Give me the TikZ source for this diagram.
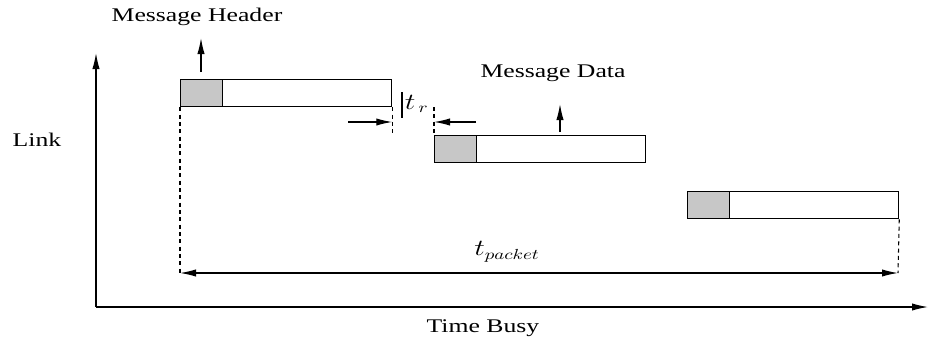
\documentclass[tikz,border=0pt]{standalone}
\usepackage{fontspec}
\setmainfont{Liberation Serif}
\usetikzlibrary{arrows.meta,calc}
\begin{document}
\begin{tikzpicture}[x=0.75pt,y=-0.75pt,
  line width=0.95pt,
  tip/.style={-{Latex[length=12pt,width=5.5pt]}},
  twotip/.style={{Latex[length=12pt,width=5.5pt]}-{Latex[length=12pt,width=5.5pt]}},
  guide/.style={line width=0.8pt,dash pattern=on 3pt off 2.5pt},
  msgbox/.style={draw,line width=0.95pt,fill=white,minimum width=211*0.75pt,minimum height=27*0.75pt,inner sep=0pt,anchor=north west},
  hdrbox/.style={draw,line width=0.95pt,fill=black!22,minimum width=42*0.75pt,minimum height=27*0.75pt,inner sep=0pt,anchor=north west},
  lbl/.style={font=\fontsize{14.5}{16}\selectfont,xscale=1.33,inner sep=0pt},
  mathlbl/.style={font=\fontsize{16}{18}\selectfont,xscale=1.3,inner sep=0pt}]
\useasboundingbox (0,0) rectangle (928,339);

% axes
\coordinate (origin) at (96,307);
\coordinate (ytop) at (96,53);
\coordinate (xend) at (928,307);
\draw[tip] (origin) -- (ytop);
\draw[tip] (origin) -- (xend);
\node[lbl] (link) at (37,140) {Link};
\node[lbl] (busy) at (483,328) {Time Busy};

% three packets: header (grey) followed by data
\node[msgbox] (p1) at (180,79) {};
\node[hdrbox] (h1) at (180,79) {};
\node[msgbox] (p2) at (434,135) {};
\node[hdrbox] (h2) at (434,135) {};
\node[msgbox] (p3) at (687,191) {};
\node[hdrbox] (h3) at (687,191) {};

% header / data labels
\node[lbl] (mh) at (197,17) {Message Header};
\node[lbl] (md) at (553,73) {Message Data};
\coordinate (mhfoot) at (201,72);
\coordinate (mhtip) at (201,38);
\coordinate (mdfoot) at (560,132);
\coordinate (mdtip) at (560,104);
\draw[tip] (mhfoot) -- (mhtip);
\draw[tip] (mdfoot) -- (mdtip);

% router delay t_r between packet 1 and packet 2
\coordinate (g1) at ($(p1.south east)+(0,28)$);
\coordinate (g2top) at ($(p2.north west)+(0,-28)$);
\draw[guide] (p1.south east) -- (g1);
\draw[guide] (g2top) -- (p2.north west);
\coordinate (la) at (348,122);
\coordinate (ra) at (476,122);
\draw[tip] (la) -- (p1.east |- la);
\draw[tip] (ra) -- (p2.west |- ra);
\coordinate (bar1) at (402,92);
\coordinate (bar2) at (402,118);
\draw (bar1) -- (bar2);
\node[mathlbl,anchor=west] (tr) at (404,104) {$t_{\,r}$};

% total packet time
\coordinate (pa) at (180,273);
\coordinate (pb) at (898,273);
\draw[guide] (p1.south west) -- (pa);
\draw[guide] (p3.south east) -- (pb);
\draw[twotip] (pa) -- (pb);
\node[mathlbl] (tp) at (507,252) {$t_{packet}$};
\end{tikzpicture}
\end{document}
